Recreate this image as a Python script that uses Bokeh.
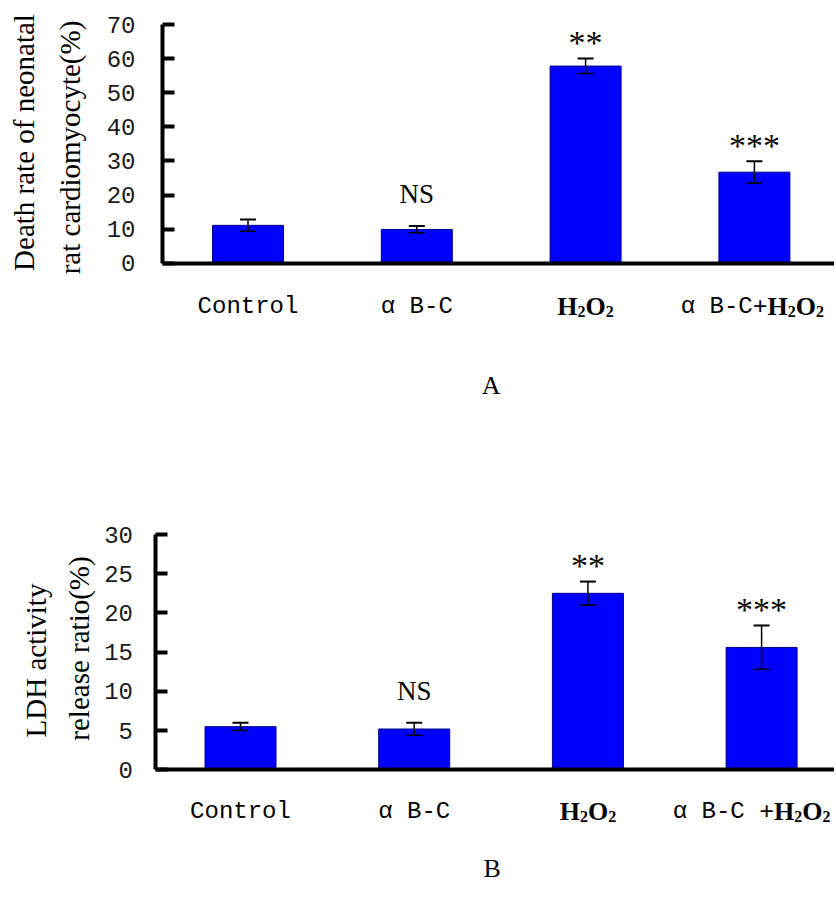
import re
import math
from bokeh.plotting import figure
from bokeh.models import Range1d, FixedTicker, Whisker, TeeHead, ColumnDataSource
from bokeh.layouts import column
from bokeh.embed import file_html
from bokeh.resources import INLINE
from bokeh.core.properties import value

# ---------------- data ----------------
categories = ["Control", "αB-C", "H2O2", "αB-C+H2O2"]
a_labels = ["Control", "α B-C", "H2O2", "α B-C+H2O2"]
b_labels = ["Control", "α B-C", "H2O2", "α B-C +H2O2"]

death_rate = [11.1, 9.9, 57.8, 26.7]
death_err = [1.7, 1.0, 2.2, 3.2]
death_sig = ["", "NS", "**", "***"]
death_ticks = [0, 10, 20, 30, 40, 50, 60, 70]

ldh_ratio = [5.5, 5.2, 22.5, 15.6]
ldh_err = [0.5, 0.8, 1.5, 2.8]
ldh_sig = ["", "NS", "**", "***"]
ldh_ticks = [0, 5, 10, 15, 20, 25, 30]

a_title = ["Death rate of neonatal", "rat cardiomyocyte(%)"]
b_title = ["LDH activity", "release ratio(%)"]

# ---------------- styling ----------------
MONO = "Liberation Mono"
SERIF = "Liberation Serif"
BLUE = "#0000ff"
W = 834
BOLD_W = {"H": 0.778, "O": 0.778, "2": 0.5, "+": 0.570}


def draw_category_label(p, x, text, y_off, shift=0, size=24, chem=26):
    sub = round(chem * 0.62)
    parts = []
    for tok in re.split(r"(H2O2|\+)", text):
        if not tok:
            continue
        if tok == "H2O2":
            parts += [("H", SERIF, "bold", chem, 0), ("2", SERIF, "bold", sub, 5),
                      ("O", SERIF, "bold", chem, 0), ("2", SERIF, "bold", sub, 5)]
        elif tok == "+":
            parts.append(("+", SERIF, "bold", chem, 0))
        else:
            parts.append((tok, MONO, "normal", size, 0))
    widths = []
    for t, f, st, sz, dy in parts:
        if f == MONO:
            widths.append(0.6 * sz * len(t))
        else:
            widths.append(sum(BOLD_W[c] for c in t) * sz)
    cur = -sum(widths) / 2.0 + shift
    for (t, f, st, sz, dy), w in zip(parts, widths):
        p.text(x=[x], y=[0], text=[t], x_offset=cur, y_offset=y_off + dy,
               text_font=value(f), text_font_style=st, text_font_size=f"{sz}px",
               text_color="#000000", text_align="left", text_baseline="middle")
        cur += w


def make_panel(vals, errs, sig, ticks, labels, title, letter, *, height,
               axis_px, first_px, step_px, zero_py, top_py, bar_px,
               title_pos, label_off, label_shift, letter_pos, standoff):
    ymax = ticks[-1]
    ppu_y = (zero_py - top_py) / ymax
    x_start = -first_px / step_px
    x_end = (W - first_px) / step_px
    axis_x = (axis_px - first_px) / step_px
    y_end = ymax + top_py / ppu_y
    y_start = -(height - zero_py) / ppu_y

    p = figure(width=W, height=height, output_backend="svg", toolbar_location=None,
               title=None, x_range=Range1d(x_start, x_end), y_range=Range1d(y_start, y_end),
               min_border=0, min_border_left=0, min_border_right=0,
               min_border_top=0, min_border_bottom=0)
    p.outline_line_color = None
    p.grid.visible = False
    p.background_fill_color = "white"
    p.border_fill_color = "white"

    # y axis
    ya = p.yaxis[0]
    ya.fixed_location = axis_x
    ya.bounds = (0, ymax)
    ya.ticker = FixedTicker(ticks=ticks)
    ya.axis_line_width = 4
    ya.axis_line_color = "black"
    ya.major_tick_in = 12
    ya.major_tick_out = 0
    ya.major_tick_line_width = 4
    ya.major_tick_line_color = "black"
    ya.minor_tick_line_color = None
    ya.major_label_text_font = MONO
    ya.major_label_text_font_size = "24px"
    ya.major_label_text_color = "#1a1a1a"
    ya.major_label_standoff = standoff

    # x axis (line only)
    xa = p.xaxis[0]
    xa.fixed_location = 0
    xa.bounds = (axis_x, x_end)
    xa.ticker = FixedTicker(ticks=[])
    xa.axis_line_width = 4
    xa.axis_line_color = "black"
    xa.major_tick_line_color = None
    xa.minor_tick_line_color = None
    xa.major_label_text_font_size = "0px"

    idx = list(range(len(vals)))
    src = ColumnDataSource(dict(
        x=idx, top=vals,
        upper=[v + e for v, e in zip(vals, errs)],
        lower=[v - e for v, e in zip(vals, errs)]))

    p.vbar(x="x", top="top", bottom=0, width=bar_px / step_px, source=src,
           fill_color=BLUE, line_color="#00008b", line_width=1)

    w = Whisker(source=src, base="x", upper="upper", lower="lower",
                line_color="black", line_width=1.5, level="overlay",
                upper_head=TeeHead(size=16, line_width=2, line_color="black"),
                lower_head=TeeHead(size=16, line_width=1.5, line_color="black"))
    p.add_layout(w)

    # significance marks
    ns = [i for i in idx if sig[i] == "NS"]
    st = [i for i in idx if sig[i].startswith("*")]
    p.text(x=ns, y=[vals[i] + errs[i] for i in ns], text=[sig[i] for i in ns],
           text_font=value(SERIF), text_font_size="27px", text_align="center",
           text_baseline="middle", y_offset=-32, text_color="black")
    p.text(x=st, y=[vals[i] + errs[i] for i in st], text=[sig[i] for i in st],
           text_font=value(SERIF), text_font_size="34px", text_align="center",
           text_baseline="middle", y_offset=-16, text_color="black")

    # category labels
    for i, lab in enumerate(labels):
        draw_category_label(p, i, lab, label_off, shift=label_shift[i])

    # axis title (two lines, rotated)
    for line, (dx, dy) in zip(title, title_pos):
        p.text(x=[axis_x], y=[0], text=[line], x_offset=dx, y_offset=dy,
               angle=math.pi / 2, text_font=value(SERIF), text_font_size="29px",
               text_align="center", text_baseline="middle", text_color="black")

    # panel letter
    p.text(x=[1.5], y=[0], text=[letter], x_offset=letter_pos[0], y_offset=letter_pos[1],
           text_font=value(SERIF), text_font_size="26px", text_align="center",
           text_baseline="middle", text_color="black")
    return p


pA = make_panel(death_rate, death_err, death_sig, death_ticks, a_labels, a_title, "A",
                height=478, axis_px=162, first_px=247.5, step_px=168.8,
                zero_py=262.7, top_py=24, bar_px=71,
                title_pos=[(-139, -120.7), (-93, -115.7)],
                label_off=43, label_shift=[0, 0, 0, -2],
                letter_pos=(-10, 122), standoff=27)

pB = make_panel(ldh_ratio, ldh_err, ldh_sig, ldh_ticks, b_labels, b_title, "B",
                height=424, axis_px=154.5, first_px=240, step_px=173.7,
                zero_py=291.3, top_py=56, bar_px=71,
                title_pos=[(-119.5, -109.3), (-76.5, -121.3)],
                label_off=42, label_shift=[0, 0, 0, -10],
                letter_pos=(-9, 99), standoff=22)

layout = column(pA, pB, spacing=0)
open("out.html", "w").write(file_html(layout, INLINE))
